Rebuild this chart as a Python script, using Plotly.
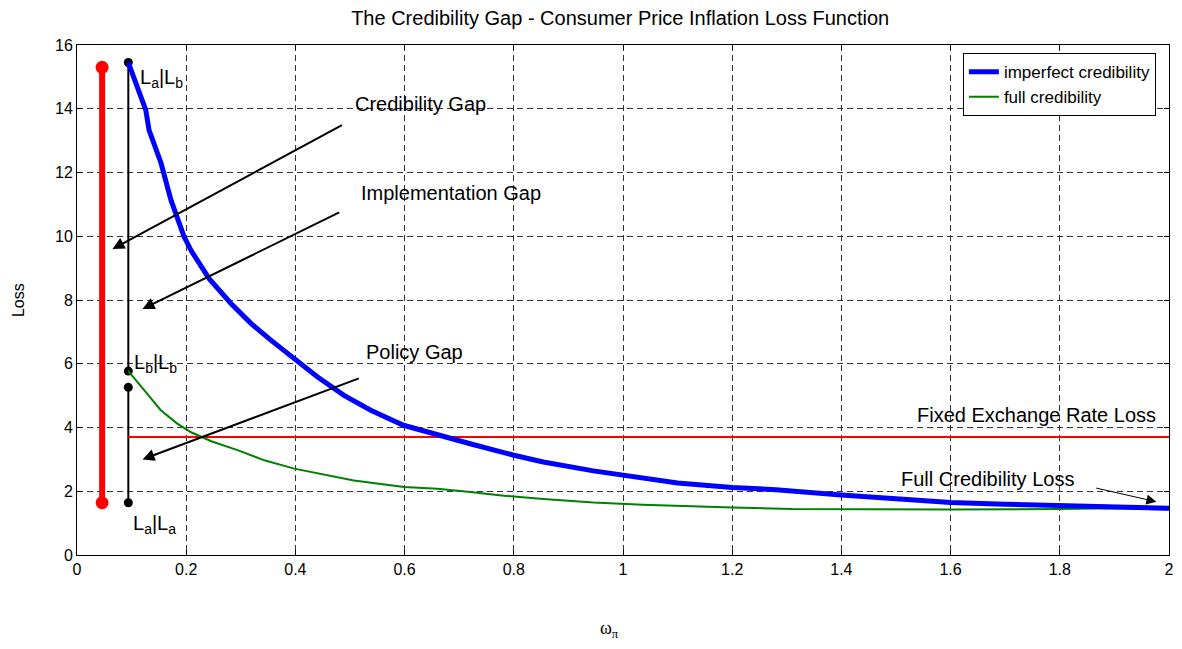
import plotly.graph_objects as go

# ---- data ----
imperfect_x = [0.094, 0.117, 0.126, 0.132, 0.154, 0.172, 0.196, 0.209, 0.242, 0.282, 0.319, 0.355,
               0.398, 0.440, 0.489, 0.538, 0.598, 0.659, 0.720, 0.80, 0.854, 0.946, 1.0, 1.10,
               1.2, 1.28, 1.4, 1.5, 1.6, 1.7, 1.8, 1.9, 2.0]
imperfect_y = [15.45, 14.38, 13.96, 13.33, 12.29, 11.14, 9.99, 9.55, 8.67, 7.89, 7.26, 6.74,
               6.16, 5.59, 5.01, 4.54, 4.07, 3.76, 3.49, 3.13, 2.92, 2.64, 2.50, 2.26,
               2.12, 2.05, 1.88, 1.75, 1.65, 1.59, 1.54, 1.51, 1.47]

full_x = [0.094, 0.11, 0.128, 0.153, 0.183, 0.209, 0.226, 0.246, 0.294, 0.343, 0.398, 0.447,
          0.507, 0.599, 0.660, 0.720, 0.782, 0.854, 0.946, 1.036, 1.128, 1.2, 1.31, 1.43,
          1.6, 1.8, 1.9, 2.0]
full_y = [5.77, 5.45, 5.07, 4.55, 4.13, 3.85, 3.73, 3.57, 3.29, 2.97, 2.71, 2.55,
          2.34, 2.13, 2.08, 1.98, 1.86, 1.76, 1.65, 1.58, 1.52, 1.49, 1.44, 1.43,
          1.43, 1.44, 1.47, 1.43]

fixed_rate_loss = 3.70
fixed_x = [0.094, 2.0]

red_bar_x = [0.046, 0.046]
red_bar_y = [1.64, 15.30]
gap_upper_x = [0.094, 0.094]
gap_upper_y = [15.45, 5.77]
gap_lower_x = [0.094, 0.094]
gap_lower_y = [5.26, 1.64]

x_ticks = [0, 0.2, 0.4, 0.6, 0.8, 1, 1.2, 1.4, 1.6, 1.8, 2]
y_ticks = [0, 2, 4, 6, 8, 10, 12, 14, 16]

# arrows: (text, text_x, text_y, tail_x, tail_y, head_x, head_y)
gap_arrows = [
    ("Credibility Gap", 0.506, 14.15, 0.488, 13.51, 0.065, 9.60),
    ("Implementation Gap", 0.517, 11.36, 0.483, 10.77, 0.120, 7.72),
    ("Policy Gap", 0.526, 6.37, 0.519, 5.56, 0.120, 3.00),
]

FONT = "Liberation Sans, Arial, sans-serif"
ANN_SIZE = 20

fig = go.Figure()

fig.add_trace(go.Scatter(x=red_bar_x, y=red_bar_y, mode="lines+markers",
                         line=dict(color="#ff0000", width=6),
                         marker=dict(color="#ff0000", size=13), showlegend=False,
                         hoverinfo="skip"))
fig.add_trace(go.Scatter(x=gap_upper_x, y=gap_upper_y, mode="lines+markers",
                         line=dict(color="black", width=2),
                         marker=dict(color="black", size=9), showlegend=False,
                         hoverinfo="skip"))
fig.add_trace(go.Scatter(x=gap_lower_x, y=gap_lower_y, mode="lines+markers",
                         line=dict(color="black", width=2),
                         marker=dict(color="black", size=9), showlegend=False,
                         hoverinfo="skip"))
fig.add_trace(go.Scatter(x=fixed_x, y=[fixed_rate_loss, fixed_rate_loss], mode="lines",
                         line=dict(color="#ff0000", width=2), showlegend=False))
fig.add_trace(go.Scatter(x=full_x, y=full_y, mode="lines", name="full credibility",
                         line=dict(color="#008000", width=2)))
fig.add_trace(go.Scatter(x=imperfect_x, y=imperfect_y, mode="lines", name="imperfect credibility",
                         line=dict(color="#0000ff", width=5)))

ann = []
for txt, tx, ty, x0, y0, x1, y1 in gap_arrows:
    ann.append(dict(x=tx, y=ty, text=txt, showarrow=False, xanchor="left", yanchor="middle",
                    font=dict(size=ANN_SIZE, color="black", family=FONT)))
    ann.append(dict(x=x1, y=y1, ax=x0, ay=y0, xref="x", yref="y", axref="x", ayref="y",
                    text="", showarrow=True, arrowhead=2, arrowsize=1.2, arrowwidth=2,
                    arrowcolor="black"))

ann.append(dict(x=1.979, y=4.39, text="Fixed Exchange Rate Loss", showarrow=False,
                xanchor="right", yanchor="middle",
                font=dict(size=ANN_SIZE, color="black", family=FONT)))
ann.append(dict(x=1.505, y=2.38, text="Full Credibility Loss", showarrow=False,
                xanchor="left", yanchor="middle",
                font=dict(size=ANN_SIZE, color="black", family=FONT)))
ann.append(dict(x=1.977, y=1.67, ax=1.864, ay=2.11, xref="x", yref="y", axref="x", ayref="y",
                text="", showarrow=True, arrowhead=2, arrowsize=2, arrowwidth=1,
                arrowcolor="black"))

ann.append(dict(x=0.112, y=14.95, text="L<sub>a</sub>|L<sub>b</sub>", showarrow=False,
                xanchor="left", yanchor="middle", font=dict(size=ANN_SIZE, color="black", family=FONT)))
ann.append(dict(x=0.101, y=6.0, text="L<sub>b</sub>|L<sub>b</sub>", showarrow=False,
                xanchor="left", yanchor="middle", font=dict(size=ANN_SIZE, color="black", family=FONT)))
ann.append(dict(x=0.099, y=0.95, text="L<sub>a</sub>|L<sub>a</sub>", showarrow=False,
                xanchor="left", yanchor="middle", font=dict(size=ANN_SIZE, color="black", family=FONT)))

# axis titles
ann.append(dict(x=0.488, y=-0.147, xref="paper", yref="paper",
                text="ω<sub>π</sub>", showarrow=False, xanchor="center", yanchor="middle",
                font=dict(size=18, color="black", family="Liberation Serif, Times New Roman, serif")))
ann.append(dict(x=-0.054, y=0.5, xref="paper", yref="paper", text="Loss", textangle=-90,
                showarrow=False, xanchor="center", yanchor="middle",
                font=dict(size=16, color="black", family=FONT)))

# page body has an 8px margin: size the figure so it fits the 1182x649 window
fig.update_layout(
    width=1166, height=633,
    margin=dict(l=69, r=5, t=37, b=86, autoexpand=False),
    paper_bgcolor="white", plot_bgcolor="white",
    title=dict(text="The Credibility Gap - Consumer Price Inflation Loss Function",
               x=0.525, xanchor="center", y=0.995, yanchor="top", pad=dict(t=0, b=0),
               font=dict(size=20, color="black", family=FONT)),
    font=dict(family=FONT, color="black"),
    annotations=ann,
    legend=dict(x=0.988, y=0.984, xanchor="right", yanchor="top",
                traceorder="reversed",
                bgcolor="white", bordercolor="black", borderwidth=1,
                font=dict(size=17, color="black", family=FONT),
                tracegroupgap=0),
    showlegend=True,
)

fig.update_xaxes(range=[0, 2], tickvals=x_ticks, ticktext=[f"{v:g}" for v in x_ticks],
                 automargin=False,
                 showline=True, linecolor="black", linewidth=1, mirror="ticks",
                 ticks="inside", ticklen=5, tickcolor="black",
                 showgrid=True, gridcolor="#333333", griddash="6px,4px", gridwidth=1,
                 zeroline=False, tickfont=dict(size=16, color="black"))
fig.update_yaxes(range=[0, 16], tickvals=y_ticks,
                 automargin=False,
                 showline=True, linecolor="black", linewidth=1, mirror="ticks",
                 ticks="inside", ticklen=5, tickcolor="black",
                 showgrid=True, gridcolor="#333333", griddash="6px,4px", gridwidth=1,
                 zeroline=False, tickfont=dict(size=16, color="black"))

fig.write_html("out.html")
